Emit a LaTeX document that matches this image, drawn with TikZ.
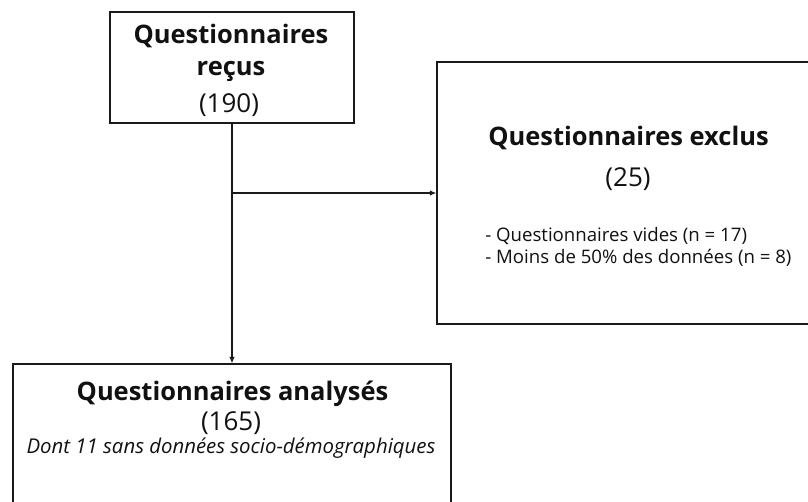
\documentclass[tikz,border=0pt]{standalone}
\usepackage{fontspec}
\setmainfont{Open Sans}
\usetikzlibrary{arrows.meta}
\definecolor{boxline}{HTML}{1A1A1A}
\definecolor{boxtext}{HTML}{111111}
\tikzset{
  box/.style={
    draw=boxline,
    line width=0.8pt,
    fill=white,
    align=center,
    text=boxtext,
    inner sep=0pt
  },
  headline/.style={font=\fontsize{14.5}{17}\selectfont\bfseries, text=boxtext, inner sep=0pt, anchor=base},
  count/.style={font=\fontsize{14.8}{17}\selectfont, text=boxtext, inner sep=0pt, anchor=base},
  note/.style={font=\fontsize{10.6}{12.5}\selectfont, text=boxtext, inner sep=0pt, anchor=base west},
  remark/.style={font=\fontsize{11.6}{14}\selectfont\itshape, text=boxtext, inner sep=0pt, anchor=base},
  flow/.style={-{Latex[length=1.3mm,width=1.1mm]}, line width=0.6pt, draw=boxline}
}

\begin{document}
\begin{tikzpicture}[x=0.02cm,y=-0.02cm]

\useasboundingbox (0,0) rectangle (808,501);
\clip (0,0) rectangle (808,501);

\node[box, minimum width=4.88cm, minimum height=2.22cm] (recus) at (232,67.5) {};
\node[headline] (recusTitle) at (231,43) {Questionnaires};
\node[headline] (recusTitleB) at (231,75) {reçus};
\node[count] (recusCount) at (229,112) {(190)};

\node[box, minimum width=7.7cm, minimum height=5.24cm] (exclus) at (629.5,193) {};
\node[headline] (exclusTitle) at (628.5,145) {Questionnaires exclus};
\node[count] (exclusCount) at (628,186) {(25)};
\node[note] (exclusListA) at (485,241) {- Questionnaires vides (n = 17)};
\node[note] (exclusListB) at (485,263) {- Moins de 50\% des données (n = 8)};

\node[box, minimum width=8.76cm, minimum height=3.2cm] (analyses) at (232,444) {};
\node[headline] (analysesTitle) at (232.5,400) {Questionnaires analysés};
\node[count] (analysesCount) at (231,430) {(165)};
\node[remark] (analysesNote) at (231,453) {Dont 11 sans données socio-démographiques};

\coordinate (split) at (232,193);
\draw[flow] (recus.south) -- (analyses.north);
\draw[flow] (split) -- (split -| exclus.west);

\end{tikzpicture}
\end{document}
